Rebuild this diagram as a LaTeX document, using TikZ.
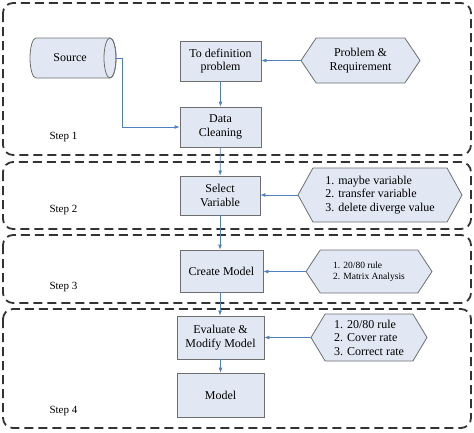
\documentclass[tikz,border=0pt]{standalone}
\usepackage{fontspec}
\setmainfont{Liberation Serif}
\usetikzlibrary{shapes.geometric,shapes.symbols,arrows.meta}
\definecolor{boxfill}{HTML}{E1E8F3}
\definecolor{boxline}{HTML}{6E6E6E}
\definecolor{arrowc}{HTML}{4F7FBD}
\definecolor{framec}{HTML}{333333}
\tikzset{
  stepframe/.style={draw=framec, line width=1.8pt, dash pattern=on 9pt off 5pt, rounded corners=10pt},
  procbox/.style={draw=boxline, fill=boxfill, line width=0.8pt, align=center, font=\fontsize{12}{13.5}\selectfont, inner sep=0pt},
  hexbox/.style={signal, signal to=west and east, draw=boxline, fill=boxfill, line width=0.8pt, align=left, inner sep=0pt, font=\fontsize{12}{13.5}\selectfont},
  cylline/.style={draw=boxline, fill=boxfill, line width=0.8pt},
  flowarrow/.style={draw=arrowc, line width=0.8pt, -{Latex[length=5pt,width=4pt]}},
  steplabel/.style={font=\fontsize{11}{12}\selectfont, anchor=west}
}
\begin{document}
\begin{tikzpicture}[x=1pt,y=-1pt]
\useasboundingbox (0,0) rectangle (474,432);
% frames
\draw[stepframe] (3,3) rectangle (471,155);
\draw[stepframe] (3,162) rectangle (471,229);
\draw[stepframe] (3,235) rectangle (471,303);
\draw[stepframe] (3,309) rectangle (471,428);
% step labels
\node[steplabel] (s1) at (46,137) {Step 1};
\node[steplabel] (s2) at (46,210) {Step 2};
\node[steplabel] (s3) at (46,287) {Step 3};
\node[steplabel] (s4) at (46,411) {Step 4};
% source cylinder (drawn shape + text node)
\path[cylline] (110,38) -- (36,38) arc[start angle=270, end angle=90, x radius=6, y radius=20]
  -- (110,78) arc[start angle=90, end angle=-90, x radius=6, y radius=20] -- cycle;
\draw[draw=boxline, line width=0.8pt] (110,58) ellipse[x radius=6, y radius=20];
\node[font=\fontsize{12}{13.5}\selectfont] (src) at (70,58) {Source};
\coordinate (srcout) at (115,58);
% nodes
\node[procbox, minimum width=81pt, minimum height=40pt] (def) at (220.5,61) {To definition\\problem};
\node[procbox, minimum width=81pt, minimum height=40pt] (clean) at (220.5,127) {Data\\Cleaning};
\node[procbox, minimum width=80pt, minimum height=39pt] (sel) at (220,195.5) {Select\\Variable};
\node[procbox, minimum width=83pt, minimum height=42pt] (create) at (221.5,271) {Create Model};
\node[procbox, minimum width=87pt, minimum height=43pt] (eval) at (220.5,337.5) {Evaluate \&\\Modify Model};
\node[procbox, minimum width=87pt, minimum height=44pt] (model) at (220.5,395) {Model};
\node[hexbox, align=center, minimum width=119pt, minimum height=45pt, signal pointer angle=112] (h1) at (360.5,60.5) {Problem \&\\Requirement};
\node[hexbox, minimum width=164pt, minimum height=54pt, signal pointer angle=122] (h2) at (380,195) {1. maybe variable\\2. transfer variable\\3. delete diverge value};
\node[hexbox, minimum width=126pt, minimum height=43pt, signal pointer angle=113, font=\fontsize{9.5}{11}\selectfont] (h3) at (369,271.5) {1. 20/80 rule\\2. Matrix Analysis};
\node[hexbox, minimum width=116pt, minimum height=47pt, signal pointer angle=118] (h4) at (369,337.5) {1. 20/80 rule\\2. Cover rate\\3. Correct rate};
% connectors
\draw[flowarrow] (def) -- (clean);
\draw[flowarrow] (srcout) -| (122,127) -- (clean.west);
\draw[flowarrow] (h1.west) -- (h1.west -| def.east);
\draw[flowarrow] (clean) -- (sel);
\draw[flowarrow] (h2.west) -- (h2.west -| sel.east);
\draw[flowarrow] (sel.south) -- (sel.south |- create.north);
\draw[flowarrow] (h3.west) -- (h3.west -| create.east);
\draw[flowarrow] (create.south -| sel.south) -- (sel.south |- eval.north);
\draw[flowarrow] (h4.west) -- (h4.west -| eval.east);
\draw[flowarrow] (eval) -- (model);
\end{tikzpicture}
\end{document}
